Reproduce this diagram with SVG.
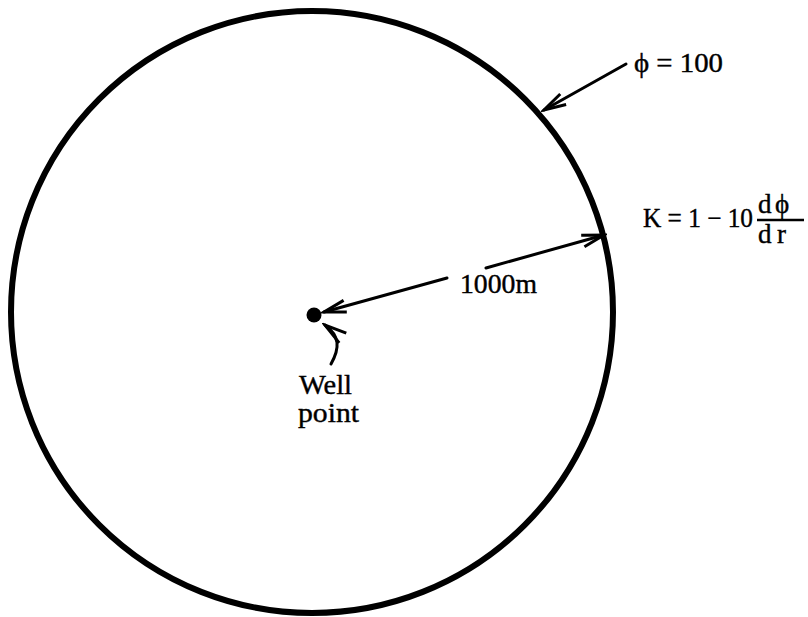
<svg xmlns="http://www.w3.org/2000/svg" width="808" height="617" viewBox="0 0 808 617">
<style>
.t{font-family:"Liberation Serif","Times New Roman",serif;font-size:27px;fill:#000;stroke:#000;stroke-width:0.4}
.ln{stroke:#000;stroke-width:3;fill:none;stroke-linecap:round}
</style>
<defs>
<marker id="barb" markerWidth="26" markerHeight="16" refX="23" refY="8" orient="auto" markerUnits="userSpaceOnUse">
<path d="M1,2 L23,8 L1,14" fill="none" stroke="#000" stroke-width="3" stroke-linejoin="miter"/>
</marker>
</defs>
<rect width="808" height="617" fill="#fff"/>
<g id="boundary">
<circle cx="312" cy="312" r="301" fill="none" stroke="#000" stroke-width="6"/>
</g>
<g id="well">
<circle cx="314" cy="315" r="7.5" fill="#000"/>
<text class="t" x="299" y="394" textLength="53" lengthAdjust="spacingAndGlyphs">Well</text>
<text class="t" x="298" y="422" textLength="61" lengthAdjust="spacingAndGlyphs">point</text>
</g>
<g id="labels">
<text class="t" x="634" y="72" textLength="89" lengthAdjust="spacingAndGlyphs">ϕ = 100</text>
<text class="t" x="643" y="227" textLength="110" lengthAdjust="spacingAndGlyphs">K = 1 − 10</text>
<text class="t" x="758" y="213" font-size="28">d</text>
<text class="t" x="775" y="213" font-size="30">ϕ</text>
<line x1="757" y1="220" x2="804" y2="220" stroke="#000" stroke-width="2.5"/>
<text class="t" x="758" y="243" font-size="28">d</text>
<text class="t" x="777" y="243" font-size="28">r</text>
<text class="t" x="460" y="293" textLength="77" lengthAdjust="spacingAndGlyphs">1000m</text>
</g>
<g id="connectors">
<line class="ln" x1="626" y1="64" x2="544" y2="110" marker-end="url(#barb)"/>
<line class="ln" x1="447" y1="278" x2="324" y2="312" marker-end="url(#barb)"/>
<line class="ln" x1="486" y1="268" x2="604" y2="235" marker-end="url(#barb)"/>
<path class="ln" d="M331,364 C340,348 340,336 325,325" marker-end="url(#barb)"/>
</g>
</svg>
